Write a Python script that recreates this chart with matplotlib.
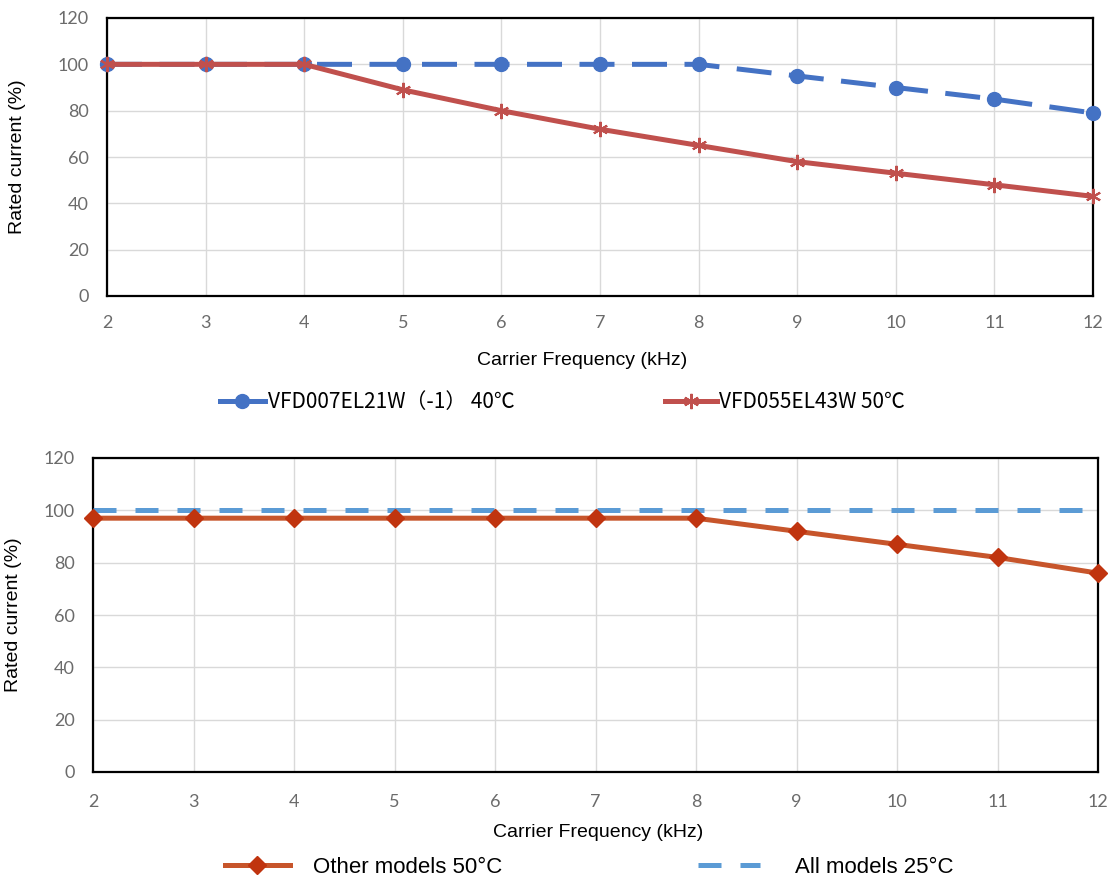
import numpy as np
import matplotlib
matplotlib.use('Agg')
import matplotlib.pyplot as plt

# Data
freq = [2, 3, 4, 5, 6, 7, 8, 9, 10, 11, 12]
yticks = [0, 20, 40, 60, 80, 100, 120]

vfd007 = [100, 100, 100, 100, 100, 100, 100, 95, 90, 85, 79]
vfd055 = [100, 100, 100, 89, 80, 72, 65, 58, 53, 48, 43]
other_50 = [97, 97, 97, 97, 97, 97, 97, 92, 87, 82, 76]
all_25 = [100, 100, 100, 100, 100, 100, 100, 100, 100, 100, 100]

label_007 = 'VFD007EL21W（-1） 40℃'
label_055 = 'VFD055EL43W 50℃'
label_other = 'Other models 50°C'
label_all = 'All models 25°C'
xlabel = 'Carrier Frequency (kHz)'
ylabel = 'Rated current (%)'

tick_font = 'Lato'
text_font = 'Liberation Sans'
cjk_font = ['Noto Sans CJK SC', 'DejaVu Sans']
tick_color = '#6b6b6b'

fig = plt.figure(figsize=(11.1, 8.77), dpi=100)
ax1 = fig.add_axes([107 / 1110, 1 - 296 / 877, 986 / 1110, 278 / 877])
ax2 = fig.add_axes([93 / 1110, 1 - 772 / 877, 1005 / 1110, 314 / 877])


def style_axes(ax, pad):
    ax.set_xlim(2, 12)
    ax.set_ylim(0, 120)
    ax.set_xticks(freq)
    ax.set_yticks(yticks)
    ax.grid(True, color='#d9d9d9', linewidth=1.0)
    ax.set_axisbelow(True)
    for s in ax.spines.values():
        s.set_color('black')
        s.set_linewidth(1.6)
    ax.tick_params(length=0, pad=13, labelsize=13, labelcolor=tick_color)
    ax.tick_params(axis='x', pad=pad)
    for lab in ax.get_xticklabels() + ax.get_yticklabels():
        lab.set_fontfamily(tick_font)


# Top chart
style_axes(ax1, 14)
l1, = ax1.plot(freq, vfd007, color='#4472C4', linewidth=3.6, dashes=(7, 3.5),
               marker='o', markersize=10, clip_on=False, zorder=3)
l2, = ax1.plot(freq, vfd055, color='#C0504D', linewidth=3.6,
               marker=(6, 2, 0), markersize=11, markeredgewidth=1.5,
               clip_on=False, zorder=4)
ax1.set_xlabel(xlabel, fontsize=14, family=text_font)
ax1.xaxis.set_label_coords(0.482, -0.201)
ax1.set_ylabel(ylabel, fontsize=14, family=text_font)
ax1.yaxis.set_label_coords(-0.082, 0.5)

h1 = plt.Line2D([], [], color='#4472C4', linewidth=3.6, marker='o', markersize=10)
leg1 = ax1.legend([h1], [label_007], loc='center left', bbox_to_anchor=(0.1146, -0.381),
                  frameon=False, borderpad=0, borderaxespad=0, handlelength=2.15,
                  handletextpad=0.15, prop={'family': cjk_font, 'size': 15})
ax1.add_artist(leg1)
ax1.legend([l2], [label_055], loc='center left', bbox_to_anchor=(0.566, -0.381),
           frameon=False, borderpad=0, borderaxespad=0, handlelength=2.5,
           handletextpad=0.1, prop={'family': cjk_font, 'size': 15})

# Bottom chart
style_axes(ax2, 16)
l4, = ax2.plot(freq, all_25, color='#5B9BD5', linewidth=3.6, dashes=(4.6, 3.8),
               clip_on=False, zorder=3)
l3, = ax2.plot(freq, other_50, color='#C7552B', linewidth=3.6, marker='D',
               markersize=9, markerfacecolor='#C0340F', markeredgecolor='#C0340F',
               clip_on=False, zorder=4)
ax2.set_xlabel(xlabel, fontsize=14, family=text_font)
ax2.xaxis.set_label_coords(0.503, -0.166)
ax2.set_ylabel(ylabel, fontsize=14, family=text_font)
ax2.yaxis.set_label_coords(-0.0706, 0.5)

leg3 = ax2.legend([l3], [label_other], loc='center left', bbox_to_anchor=(0.131, -0.303),
                  frameon=False, borderpad=0, borderaxespad=0, handlelength=2.93,
                  handletextpad=1.03, prop={'family': text_font, 'size': 16})
ax2.add_artist(leg3)
ax2.legend([l4], [label_all], loc='center left', bbox_to_anchor=(0.602, -0.303),
           frameon=False, borderpad=0, borderaxespad=0, handlelength=2.8,
           handletextpad=1.57, prop={'family': text_font, 'size': 16})

plt.savefig('out.png', dpi=100)
